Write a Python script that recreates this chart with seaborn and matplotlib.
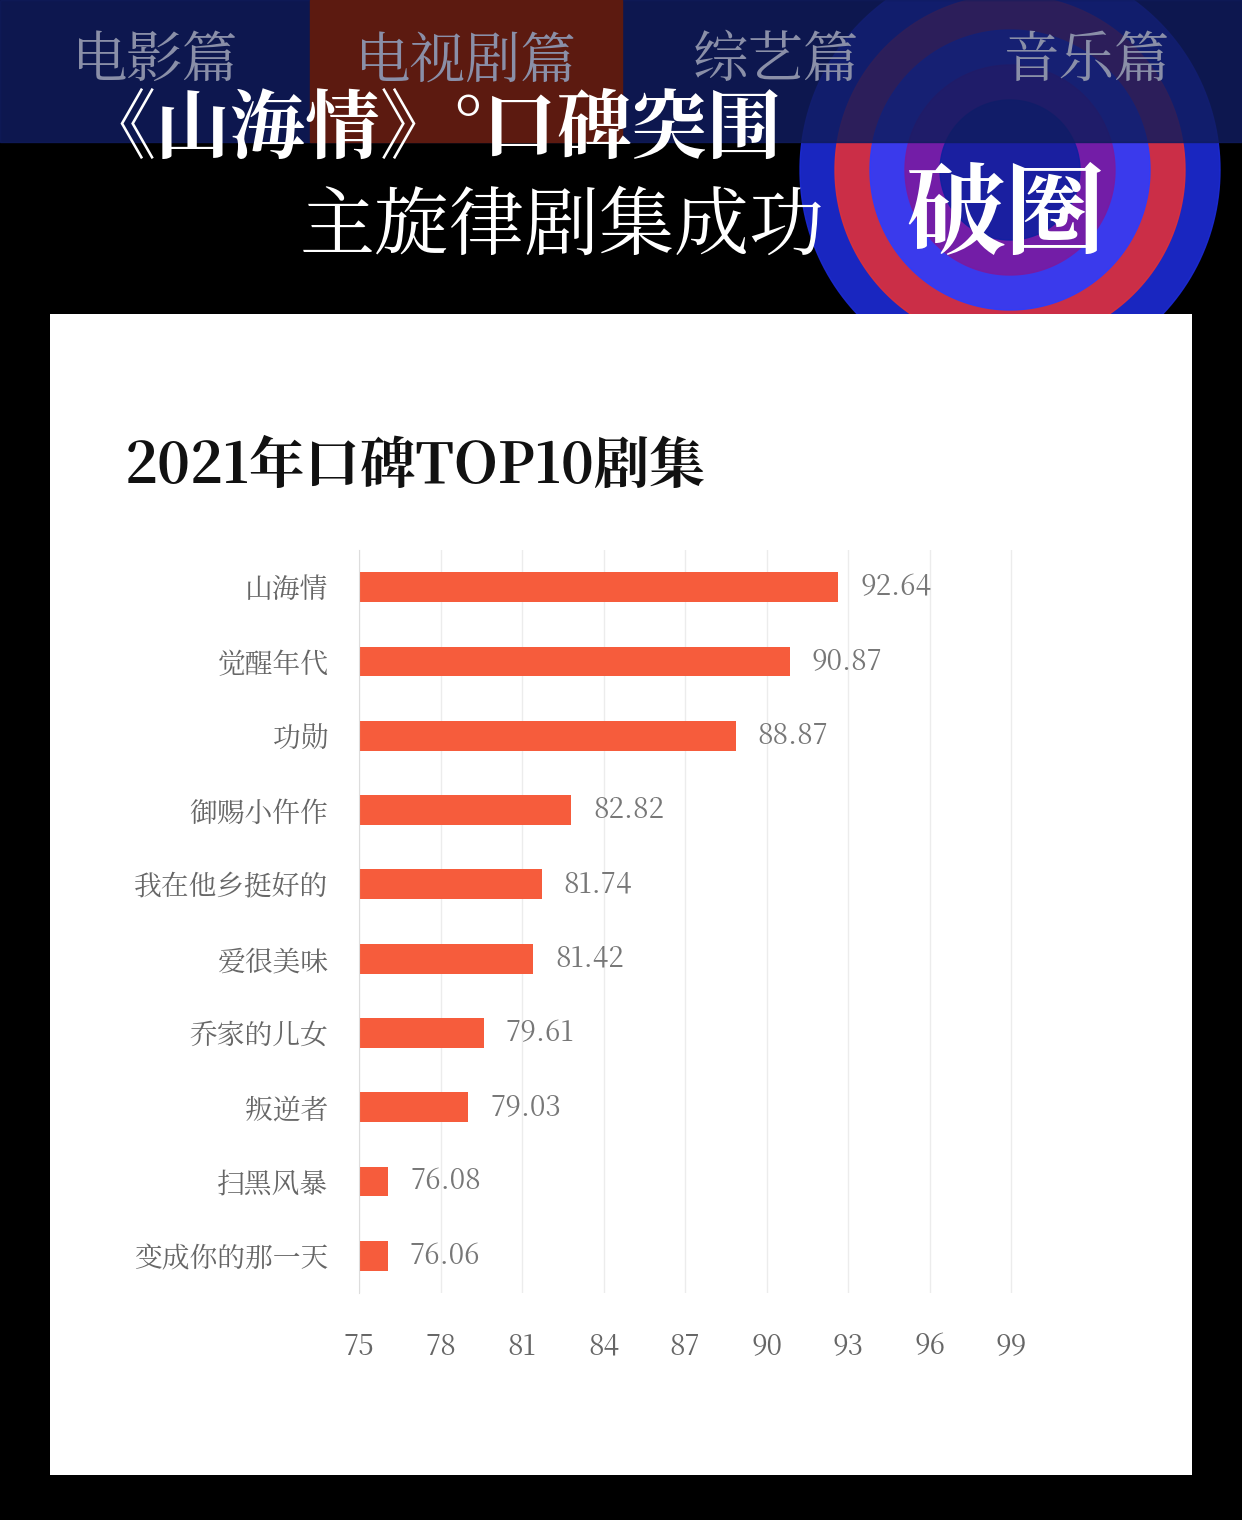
import glob
import matplotlib.pyplot as plt
import matplotlib.patches as mpatches
from matplotlib import font_manager
import seaborn as sns
import pandas as pd
import numpy as np

# find a CJK font that is really installed
cjk = None
for f in font_manager.fontManager.ttflist:
    if 'CJK' in f.name and 'SC' in f.name:
        cjk = f.name
        break
if cjk is None:
    for path in glob.glob('/usr/share/fonts/**/*CJK*', recursive=True):
        font_manager.fontManager.addfont(path)
    for f in font_manager.fontManager.ttflist:
        if 'CJK' in f.name:
            cjk = f.name
            break
plt.rcParams['font.family'] = 'sans-serif'
plt.rcParams['font.sans-serif'] = [cjk or 'Noto Sans CJK SC', 'DejaVu Sans']

# data
shows = ['山海情', '觉醒年代', '功勋', '御赐小仵作', '我在他乡挺好的',
         '爱很美味', '乔家的儿女', '叛逆者', '扫黑风暴', '变成你的那一天']
scores = [92.64, 90.87, 88.87, 82.82, 81.74, 81.42, 79.61, 79.03, 76.08, 76.06]
ticks = [75, 78, 81, 84, 87, 90, 93, 96, 99]
tabs = ['电影篇', '电视剧篇', '综艺篇', '音乐篇']

W, H = 1242, 1520
fig = plt.figure(figsize=(W / 100, H / 100), dpi=100, facecolor='black')

def box(x0, y0, x1, y1):
    # pixel box (top-left origin) -> figure fraction rect
    return [x0 / W, 1 - y1 / H, (x1 - x0) / W, (y1 - y0) / H]

# header background with a rough swirl
hdr = fig.add_axes(box(0, 0, W, 314))
hdr.set_xlim(0, W)
hdr.set_ylim(314, 0)
hdr.axis('off')
hdr.add_patch(mpatches.Rectangle((0, 0), W, 314, color='black'))
t = np.linspace(0, 2 * np.pi, 200)
for i, c in enumerate(['#1c2bd6', '#e0303a', '#2a3cff', '#7a1aa0', '#1020a0']):
    r = 300 - i * 50
    hdr.fill(1010 + r * 0.7 * np.cos(t), 170 + r * 0.7 * np.sin(t), color=c, alpha=0.9)
hdr.add_patch(mpatches.Rectangle((0, 0), W, 142, color='#101c5e', alpha=0.85))
hdr.add_patch(mpatches.Rectangle((310, 0), 312, 142, color='#5c1a10'))
for i, name in enumerate(tabs):
    hdr.text(155 + i * 310.5, 62, name, fontsize=40, color='#8a8fa8',
             ha='center', va='center')
hdr.text(80, 130, '《山海情》°口碑突围', fontsize=54, color='white',
         fontweight='bold', ha='left', va='center')
hdr.text(300, 228, '主旋律剧集成功', fontsize=54, color='white',
         ha='left', va='center')
hdr.text(905, 218, '破圈', fontsize=72, color='white',
         fontweight='bold', ha='left', va='center')

# white panel
panel = fig.add_axes(box(50, 314, 1192, 1475))
panel.set_facecolor('white')
panel.set_xticks([])
panel.set_yticks([])
for s in panel.spines.values():
    s.set_visible(False)
panel.text((125 - 50) / 1142, 1 - (468 - 314) / 1161, '2021年口碑TOP10剧集',
           transform=panel.transAxes, fontsize=40, fontweight='bold',
           color='#111111', va='center', ha='left')

# bar chart
df = pd.DataFrame({'show': shows, 'score': scores})
ax = fig.add_axes(box(359, 550, 1013, 1293))
sns.barplot(data=df, x='score', y='show', color='#f65c3c', saturation=1,
            width=0.4, orient='h', ax=ax)
ax.set_xlim(75, 99.07)
ax.set_xticks(ticks)
ax.grid(axis='x', color='#ececec', linewidth=1)
ax.set_axisbelow(True)
for s in ['top', 'right', 'bottom']:
    ax.spines[s].set_visible(False)
ax.spines['left'].set_color('#dddddd')
ax.tick_params(length=0, labelsize=20, labelcolor='#666666')
ax.tick_params(axis='x', pad=28)
ax.tick_params(axis='y', pad=22)
ax.set_xlabel('')
ax.set_ylabel('')
for i, v in enumerate(scores):
    ax.text(v + 0.8, i, f'{v:.2f}', va='center', ha='left', fontsize=20, color='#777777')

fig.savefig('out.png', dpi=100, facecolor='black')
